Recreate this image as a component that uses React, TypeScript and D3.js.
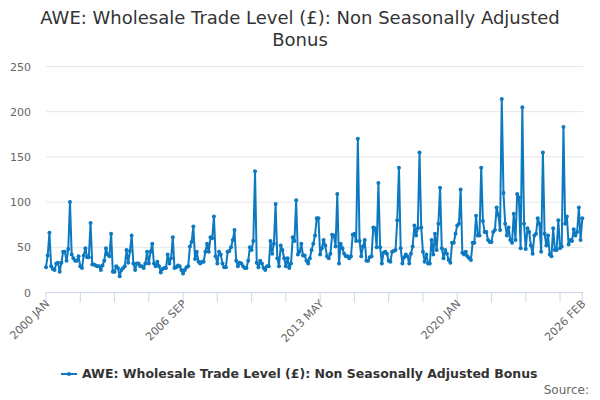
import React from "react";
import * as d3 from "d3";

// monthly values, 2000 JAN .. 2026 FEB
const values2000s: number[] = [
  28, 41, 66, 29, 26, 25, 32, 33, 23, 33, 45, 45,
  35, 48, 100, 42, 38, 35, 35, 40, 29, 27, 41, 49,
  39, 39, 77, 31, 31, 30, 29, 29, 25, 30, 35, 49,
  42, 40, 65, 23, 23, 29, 27, 18, 25, 27, 29, 47,
  33, 46, 63, 32, 25, 32, 32, 29, 29, 27, 32, 45,
  32, 45, 54, 32, 29, 34, 29, 22, 26, 27, 27, 42,
  32, 38, 61, 27, 28, 30, 29, 25, 21, 25, 28, 29,
  51, 56, 73, 37, 45, 34, 32, 34, 34, 45, 54, 45,
  61, 60, 84, 40, 32, 45, 42, 32, 28, 28, 45, 46,
  50, 58, 69, 35, 29, 33, 32, 29, 27, 27, 35, 50,
];
const values2010s: number[] = [
  47, 57, 134, 33, 28, 35, 32, 27, 25, 29, 29, 57,
  43, 54, 98, 38, 29, 52, 47, 38, 29, 38, 27, 32,
  61, 57, 102, 42, 45, 54, 41, 41, 35, 32, 38, 47,
  54, 63, 82, 82, 42, 49, 58, 52, 40, 38, 43, 64,
  63, 51, 109, 32, 54, 49, 43, 40, 40, 38, 40, 64,
  65, 57, 170, 57, 40, 51, 58, 35, 35, 39, 40, 72,
  71, 50, 121, 50, 32, 44, 45, 43, 35, 34, 45, 46,
  47, 80, 138, 49, 32, 39, 42, 40, 32, 43, 51, 74,
  63, 71, 155, 72, 45, 34, 42, 32, 32, 58, 42, 65,
  47, 76, 116, 49, 38, 47, 43, 36, 33, 55, 55, 65,
];
const values2020s: number[] = [
  74, 76, 114, 44, 42, 45, 40, 38, 36, 55, 55, 85,
  63, 63, 138, 79, 67, 67, 58, 56, 56, 67, 69, 94,
  86, 69, 214, 110, 76, 63, 72, 58, 55, 87, 58, 109,
  105, 49, 205, 76, 48, 71, 67, 52, 43, 63, 65, 82,
  76, 45, 155, 65, 52, 63, 42, 40, 71, 47, 47, 80,
  49, 51, 183, 76, 84, 53, 58, 57, 70, 63, 67, 94,
  58, 82,
];
const values = [...values2000s, ...values2010s, ...values2020s];

const monthNames = ["JAN", "FEB", "MAR", "APR", "MAY", "JUN", "JUL", "AUG", "SEP", "OCT", "NOV", "DEC"];
const labels = values.map((_, i) => `${2000 + Math.floor(i / 12)} ${monthNames[i % 12]}`);
const yTicks = [0, 50, 100, 150, 200, 250];
const tickEvery = 20;
const labelEvery = 80;

const title = ["AWE: Wholesale Trade Level (£): Non Seasonally Adjusted", "Bonus"];
const seriesName = "AWE: Wholesale Trade Level (£): Non Seasonally Adjusted Bonus";

const width = 600;
const height = 400;
const left = 46;
const right = 582.3;
const top = 66.5;
const bottom = 292.5;
const color = "#0c79c1";
const font = "'DejaVu Sans', sans-serif";

export default function App() {
  const x = d3.scaleLinear().domain([0, values.length - 1]).range([left, right]);
  const y = d3.scaleLinear().domain([0, 250]).range([bottom, top]);

  const line = d3
    .line<number>()
    .x((_, i) => x(i))
    .y((d) => y(d));

  const last = values.length - 1;
  const tickIdx = d3.range(0, values.length, tickEvery).concat(last);
  const labelIdx = d3.range(0, values.length - 10, labelEvery).concat(last);

  return (
    <svg
      width={width}
      height={height}
      style={{ position: "absolute", left: 0, top: 0, fontFamily: font }}
    >
      <rect width={width} height={height} fill="#fff" />
      <text x={300} y={24} textAnchor="middle" fontSize={18} fill="#333">
        {title.map((t, i) => (
          <tspan key={i} x={300} dy={i === 0 ? 0 : 22}>
            {t}
          </tspan>
        ))}
      </text>

      {/* grid + y labels */}
      {yTicks.map((t) => (
        <g key={t}>
          {t > 0 && (
            <line x1={left} x2={right + 1} y1={y(t)} y2={y(t)} stroke="#e6e6e6" />
          )}
          <text x={31} y={y(t) + 4} textAnchor="end" fontSize={11} fill="#666">
            {t}
          </text>
        </g>
      ))}

      {/* x axis */}
      <line x1={left} x2={right + 1} y1={bottom} y2={bottom} stroke="#ccd6eb" />
      {tickIdx.map((i) => (
        <line key={i} x1={x(i)} x2={x(i)} y1={bottom} y2={bottom + 10} stroke="#ccd6eb" />
      ))}
      {labelIdx.map((i) => (
        <text
          key={i}
          transform={`translate(${x(i) + 4},${bottom + 12}) rotate(-45)`}
          textAnchor="end"
          fontSize={11}
          fill="#666"
        >
          {labels[i]}
        </text>
      ))}

      {/* series */}
      <path d={line(values) ?? ""} fill="none" stroke={color} strokeWidth={2} strokeLinejoin="round" />
      {values.map((v, i) => (
        <circle key={i} cx={x(i)} cy={y(v)} r={2} fill={color} />
      ))}

      {/* legend */}
      <line x1={61} x2={77} y1={374} y2={374} stroke={color} strokeWidth={2} />
      <circle cx={69} cy={374} r={2} fill={color} />
      <text x={82} y={378} fontSize={12.5} fontWeight="bold" fill="#333">
        {seriesName}
      </text>
      <text x={589} y={394} textAnchor="end" fontSize={12} fill="#666">
        Source:
      </text>
    </svg>
  );
}
